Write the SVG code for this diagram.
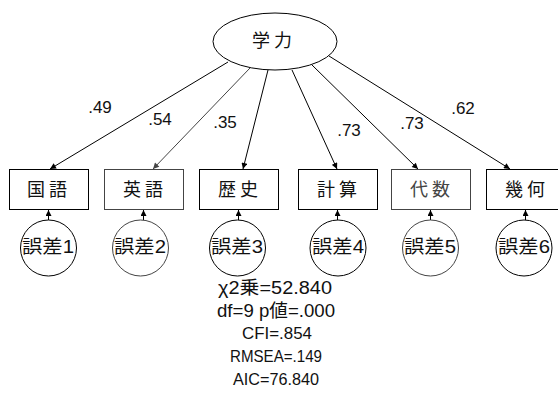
<svg xmlns="http://www.w3.org/2000/svg" width="558" height="397" viewBox="0 0 558 397">
<defs>
<marker id="ah" viewBox="0 0 10 10" refX="10" refY="5" markerWidth="7" markerHeight="6" markerUnits="userSpaceOnUse" orient="auto">
<path d="M0,0 L10,5 L0,10 z" fill="#000"/>
</marker>
<marker id="ahg" viewBox="0 0 10 10" refX="10" refY="5" markerWidth="7" markerHeight="6" markerUnits="userSpaceOnUse" orient="auto">
<path d="M0,0 L10,5 L0,10 z" fill="#444"/>
</marker>
</defs>
<style>
.box{fill:#fff;stroke:#000;stroke-width:1}
.g{stroke:#444}
.t{font-family:"Liberation Sans","Noto Sans CJK JP","Noto Sans CJK SC",sans-serif;font-size:18px;fill:#111;text-anchor:middle}
.n{font-family:"Liberation Sans",Arial,sans-serif;font-size:17px;fill:#111;text-anchor:middle}
.c{stroke:#000;stroke-width:1;fill:none;marker-end:url(#ah)}
</style>
<rect width="558" height="397" fill="#fff"/>
<g id="connectors">
<line class="c" x1="228" y1="62" x2="50" y2="169"/>
<line class="c" x1="250" y1="68" x2="153" y2="169" style="stroke:#444;marker-end:url(#ahg)"/>
<line class="c" x1="268" y1="70" x2="243" y2="169"/>
<line class="c" x1="292" y1="70" x2="337" y2="169"/>
<line class="c" x1="312" y1="65" x2="418" y2="169"/>
<line class="c" x1="329" y1="56" x2="510" y2="169"/>
<line class="c" x1="48.5" y1="220" x2="48.5" y2="210"/>
<line class="c" x1="143.5" y1="220" x2="143.5" y2="210"/>
<line class="c" x1="238.5" y1="220" x2="238.5" y2="210"/>
<line class="c" x1="337.5" y1="220" x2="337.5" y2="210"/>
<line class="c" x1="430.5" y1="220" x2="430.5" y2="210"/>
<line class="c" x1="525.5" y1="220" x2="525.5" y2="210"/>
<text class="n" x="100" y="113">.49</text>
<text class="n" x="160" y="125">.54</text>
<text class="n" x="225" y="128">.35</text>
<text class="n" x="349" y="136">.73</text>
<text class="n" x="412" y="129">.73</text>
<text class="n" x="463" y="114">.62</text>
</g>
<g id="gakuryoku">
<ellipse class="box" cx="275" cy="41.5" rx="62" ry="28.5"/>
<text class="t" x="274" y="47" letter-spacing="4">学力</text>
</g>
<g id="kokugo">
<rect class="box" x="9.5" y="169.5" width="79" height="40"/>
<text class="t" x="49" y="196" letter-spacing="4">国語</text>
</g>
<g id="eigo">
<rect class="box g" x="104.5" y="169.5" width="79" height="40"/>
<text class="t" x="145" y="196" letter-spacing="4">英語</text>
</g>
<g id="rekishi">
<rect class="box" x="199.5" y="169.5" width="79" height="40"/>
<text class="t" x="240" y="196" letter-spacing="4">歴史</text>
</g>
<g id="keisan">
<rect class="box" x="298.5" y="169.5" width="79" height="40"/>
<text class="t" x="339" y="196" letter-spacing="4">計算</text>
</g>
<g id="daisu">
<rect class="box g" x="391.5" y="169.5" width="79" height="40"/>
<text class="t" x="432" y="196" letter-spacing="4" style="fill:#444">代数</text>
</g>
<g id="kika">
<rect class="box" x="486.5" y="169.5" width="79" height="40"/>
<text class="t" x="527" y="196" letter-spacing="4">幾何</text>
</g>
<g id="e1">
<circle class="box" cx="48.5" cy="248" r="28"/>
<text class="t" x="48" y="253" textLength="52" lengthAdjust="spacingAndGlyphs">誤差1</text>
</g>
<g id="e2">
<circle class="box g" cx="140.5" cy="248" r="28"/>
<text class="t" x="140" y="253" textLength="52" lengthAdjust="spacingAndGlyphs">誤差2</text>
</g>
<g id="e3">
<circle class="box" cx="237.5" cy="248" r="28"/>
<text class="t" x="237" y="253" textLength="52" lengthAdjust="spacingAndGlyphs">誤差3</text>
</g>
<g id="e4">
<circle class="box" cx="338" cy="248" r="28"/>
<text class="t" x="338" y="253" textLength="52" lengthAdjust="spacingAndGlyphs">誤差4</text>
</g>
<g id="e5">
<circle class="box g" cx="430.5" cy="248" r="28"/>
<text class="t" x="430" y="253" textLength="52" lengthAdjust="spacingAndGlyphs">誤差5</text>
</g>
<g id="e6">
<circle class="box" cx="524" cy="248" r="28"/>
<text class="t" x="524" y="253" textLength="52" lengthAdjust="spacingAndGlyphs">誤差6</text>
</g>
<g id="fit">
<text class="t" x="275" y="294" textLength="114" lengthAdjust="spacingAndGlyphs">χ2乗=52.840</text>
<text class="t" x="276" y="317" textLength="118" lengthAdjust="spacingAndGlyphs">df=9 p値=.000</text>
<text class="n" x="277" y="339" textLength="70" lengthAdjust="spacingAndGlyphs">CFI=.854</text>
<text class="n" x="276" y="362" textLength="92" lengthAdjust="spacingAndGlyphs">RMSEA=.149</text>
<text class="n" x="276" y="385" textLength="86" lengthAdjust="spacingAndGlyphs">AIC=76.840</text>
</g>
</svg>
